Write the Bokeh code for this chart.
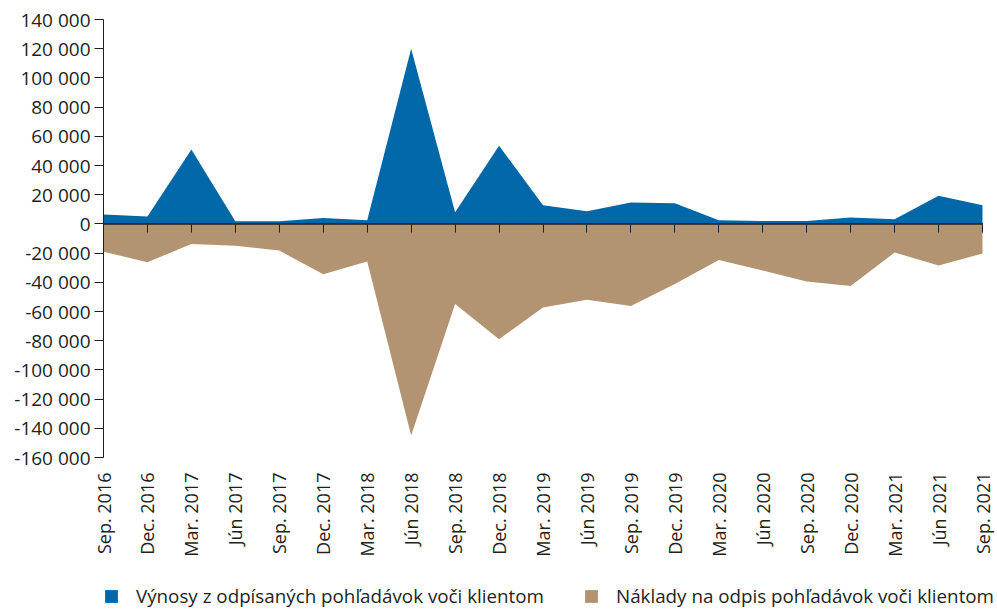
import math
from bokeh.plotting import figure
from bokeh.layouts import column
from bokeh.models import (Range1d, FixedTicker, LinearAxis, Legend, LegendItem)
from bokeh.embed import file_html
from bokeh.resources import INLINE

categories = ["Sep. 2016", "Dec. 2016", "Mar. 2017", "Jún 2017", "Sep. 2017", "Dec. 2017",
              "Mar. 2018", "Jún 2018", "Sep. 2018", "Dec. 2018", "Mar. 2019", "Jún 2019",
              "Sep. 2019", "Dec. 2019", "Mar. 2020", "Jún 2020", "Sep. 2020", "Dec. 2020",
              "Mar. 2021", "Jún 2021", "Sep. 2021"]

vynosy = [6500, 5000, 51000, 1800, 1800, 4100, 2500, 120000, 8000, 53600, 12700, 8600,
          14600, 14100, 2500, 2000, 2000, 4300, 3200, 19200, 12700]

naklady = [-19000, -26300, -13700, -14900, -18300, -34500, -25800, -145000, -54800, -79000,
           -57300, -52000, -56200, -41100, -24700, -32000, -39500, -42500, -19600, -28500, -20300]

y_ticks = [140000, 120000, 100000, 80000, 60000, 40000, 20000, 0, -20000, -40000, -60000,
           -80000, -100000, -120000, -140000, -160000]
y_tick_labels = ["140 000", "120 000", "100 000", "80 000", "60 000", "40 000", "20 000", "0",
                 "-20 000", "-40 000", "-60 000", "-80 000", "-100 000", "-120 000",
                 "-140 000", "-160 000"]

series_names = ["Výnosy z odpísaných pohľadávok voči klientom",
                "Náklady na odpis pohľadávok voči klientom"]

BLUE = "#0067a8"
BROWN = "#b39472"
TEXT = "#231f20"
FONT = "Open Sans"

n = len(categories)
xs = list(range(n))

# frame runs to the right edge; last category sits 15px inside it
x_end = (n - 1) * (997 - 103) / (982 - 103)

p = figure(width=997, height=572, output_backend="svg", toolbar_location=None,
           x_range=Range1d(0, x_end),
           y_range=Range1d(min(y_ticks), max(y_ticks)),
           min_border_left=103, min_border_right=0, min_border_top=19, min_border_bottom=115,
           x_axis_location=None)
p.outline_line_color = None
p.grid.visible = False
p.background_fill_color = "white"
p.border_fill_color = "white"

r_blue = p.varea(x=xs, y1=[0] * n, y2=vynosy, fill_color=BLUE)
r_brown = p.varea(x=xs, y1=naklady, y2=[0] * n, fill_color=BROWN)
# zero baseline across the categories
p.line(x=xs, y=[0] * n, line_color=TEXT, line_width=1.5)

# Y axis
ya = p.yaxis[0]
ya.ticker = FixedTicker(ticks=y_ticks)
ya.major_label_overrides = {t: l for t, l in zip(y_ticks, y_tick_labels)}
ya.major_label_text_font = FONT
ya.major_label_text_font_size = "19px"
ya.major_label_text_color = TEXT
ya.axis_line_color = TEXT
ya.major_tick_line_color = TEXT
ya.major_tick_out = 9
ya.major_tick_in = 0
ya.minor_tick_line_color = None
ya.major_label_standoff = 4

# Category label axis (bottom)
xa = LinearAxis(ticker=FixedTicker(ticks=xs))
xa.major_label_overrides = {i: c for i, c in zip(xs, categories)}
xa.major_label_orientation = math.pi / 2
xa.major_label_text_font = FONT
xa.major_label_text_font_size = "18px"
xa.major_label_text_color = TEXT
xa.axis_line_color = None
xa.major_tick_line_color = None
xa.minor_tick_line_color = None
xa.major_tick_out = 0
xa.major_tick_in = 0
xa.major_label_standoff = 15
p.add_layout(xa, "below")

# Ticks on the zero line
za = LinearAxis(ticker=FixedTicker(ticks=xs), fixed_location=0)
za.major_label_text_font_size = "0px"
za.major_label_text_alpha = 0
za.axis_line_color = None
za.major_tick_line_color = TEXT
za.major_tick_out = 9
za.major_tick_in = 0
za.minor_tick_line_color = None
za.major_label_standoff = 0
p.add_layout(za, "below")

# Legend strip
lg = figure(width=997, height=38, output_backend="svg", toolbar_location=None,
            x_range=Range1d(0, 1), y_range=Range1d(0, 1),
            min_border_left=0, min_border_right=0, min_border_top=0, min_border_bottom=0,
            x_axis_location=None, y_axis_location=None)
lg.outline_line_color = None
lg.grid.visible = False
lb = lg.varea(x=[0, 1], y1=[0, 0], y2=[0, 0], fill_color=BLUE)
lbr = lg.varea(x=[0, 1], y1=[0, 0], y2=[0, 0], fill_color=BROWN)

legend = Legend(items=[LegendItem(label=series_names[0], renderers=[lb]),
                       LegendItem(label=series_names[1], renderers=[lbr])],
                orientation="horizontal", location=(0, 1))
legend.label_text_font = FONT
legend.label_text_font_size = "18.8px"
legend.label_text_color = TEXT
legend.glyph_width = 16
legend.glyph_height = 16
legend.label_height = 16
legend.label_standoff = 17
legend.spacing = 39
legend.padding = 0
legend.margin = 0
legend.border_line_color = None
legend.background_fill_alpha = 0
lg.add_layout(legend, "center")

layout = column(p, lg, spacing=0)
open("out.html", "w").write(file_html(layout, INLINE))
